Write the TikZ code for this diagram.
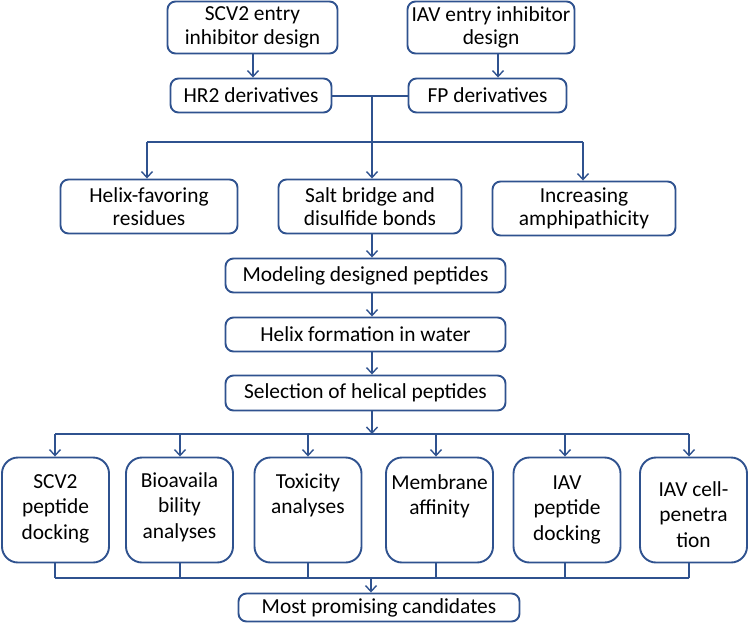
\documentclass[tikz,border=0pt]{standalone}
\usepackage{fontspec}
\setmainfont{Carlito}
\usetikzlibrary{arrows.meta}
\definecolor{bl}{RGB}{47,82,143}
\begin{document}
\begin{tikzpicture}[x=1pt,y=-1pt,
  box/.style={draw=bl, line width=1.9pt, rounded corners=8pt, align=center, inner sep=0pt,
    font=\fontsize{21.4}{23.5}\selectfont, text=black},
  bbox/.style={draw=bl, line width=1.9pt, rounded corners=16pt, inner sep=0pt,
    minimum width=107pt, minimum height=105pt},
  btext/.style={anchor=north, align=center, inner sep=0pt, font=\fontsize{21.4}{25.5}\selectfont},
  conn/.style={draw=bl, line width=1.7pt},
  arr/.style={conn, -{Straight Barb[length=6pt,width=11pt,line width=1.4pt]}}
]
\useasboundingbox (0,0) rectangle (749,624);
% top
\node[box, minimum width=170pt, minimum height=52pt] (scv) at (252.5,27.5) {SCV2 entry\\inhibitor design};
\node[box, minimum width=167pt, minimum height=52pt] (iav) at (491,27.5) {IAV entry inhibitor\\design};
\node[box, minimum width=161pt, minimum height=34pt] (hr2) at (251,95.5) {HR2 derivatives};
\node[box, minimum width=158pt, minimum height=34pt] (fp) at (487.5,95.5) {FP derivatives};
% middle row
\node[box, minimum width=177pt, minimum height=54pt] (helix) at (149,206.5) {Helix-favoring\\residues};
\node[box, minimum width=183pt, minimum height=54pt] (salt) at (370,206.5) {Salt bridge and\\disulfide bonds};
\node[box, minimum width=183pt, minimum height=54pt] (incr) at (584,208.5) {Increasing\\amphipathicity};
% chain
\node[box, minimum width=280pt, minimum height=34pt] (model) at (365.5,275.5) {Modeling designed peptides};
\node[box, minimum width=280pt, minimum height=34pt] (helw) at (365.5,334.5) {Helix formation in water};
\node[box, minimum width=280pt, minimum height=35pt] (sel) at (365.5,393) {Selection of helical peptides};
% bottom boxes
\node[bbox] (b1) at (55.5,510) {};
\node[bbox] (b2) at (179.5,510) {};
\node[bbox] (b3) at (308,510) {};
\node[bbox] (b4) at (439.5,510) {};
\node[bbox] (b5) at (567,510) {};
\node[bbox] (b6) at (693.5,510) {};
\node[btext] (t1) at (55.5,470) {\strut SCV2\\peptide\\docking};
\node[btext] (t2) at (179.5,469) {\strut Bioavaila\\bility\\analyses};
\node[btext] (t3) at (308,470) {\strut Toxicity\\analyses};
\node[btext] (t4) at (439.5,471) {\strut Membrane\\affinity};
\node[btext] (t5) at (567,471) {\strut IAV\\peptide\\docking};
\node[btext] (t6) at (693.5,478) {\strut IAV cell-\\penetra\\tion};
\node[box, minimum width=281pt, minimum height=28pt] (best) at (379,607.5) {Most promising candidates};
% connectors top
\draw[arr] (253,0 |- scv.south) -- (253,0 |- hr2.north);
\draw[arr] (498,0 |- iav.south) -- (498,0 |- fp.north);
\coordinate (j1) at (372,96);
\coordinate (hl) at (147,142);
\coordinate (hr) at (583,142);
\draw[conn] (hr2.east |- j1) -- (fp.west |- j1);
\draw[arr] (j1) -- (372,0 |- salt.north);
\draw[conn] (hl) -- (hr);
\draw[arr] (hl) -- (147,0 |- helix.north);
\draw[arr] (hr) -- (583,0 |- incr.north);
% chain connectors
\draw[arr] (372,0 |- salt.south) -- (372,0 |- model.north);
\draw[arr] (372,0 |- model.south) -- (372,0 |- helw.north);
\draw[arr] (372,0 |- helw.south) -- (372,0 |- sel.north);
\coordinate (s1) at (372,434);
\coordinate (sl) at (55,434);
\coordinate (sr) at (689,434);
\draw[arr] (372,0 |- sel.south) -- (s1);
\draw[conn] (sl) -- (sr);
\foreach \n/\xx in {b1/55,b2/180,b3/308,b4/436,b5/565,b6/689}{
  \draw[arr] (\xx,434) -- (\xx,0 |- \n.north);
}
% bottom merge
\coordinate (ml) at (55,578);
\coordinate (mr) at (689,578);
\coordinate (m1) at (371,578);
\foreach \n/\xx in {b1/55,b2/180,b3/308,b4/436,b5/565,b6/689}{
  \draw[conn] (\xx,0 |- \n.south) -- (\xx,578);
}
\draw[conn] (ml) -- (mr);
\draw[arr] (m1) -- (371,0 |- best.north);
\end{tikzpicture}
\end{document}
